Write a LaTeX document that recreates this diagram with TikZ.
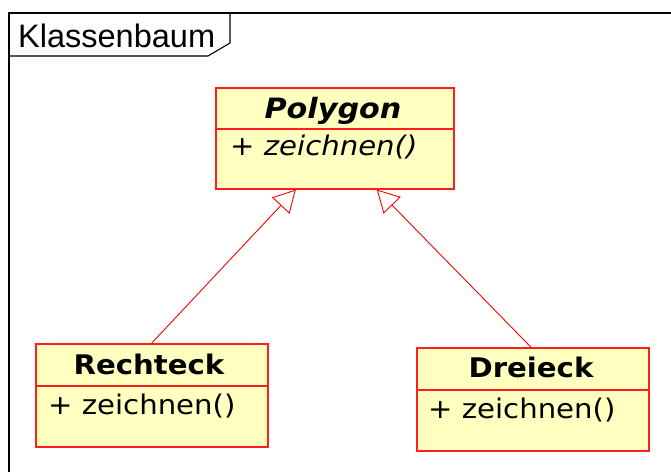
\documentclass[tikz,border=0pt]{standalone}
\usepackage{fontspec}
\setmainfont[FakeStretch=1.08]{DejaVu Sans}
\newfontfamily\labelfont{Liberation Sans}
\usetikzlibrary{arrows.meta,calc}
\definecolor{classfill}{RGB}{255,255,192}
\definecolor{classline}{RGB}{255,30,30}
\begin{document}
\begin{tikzpicture}[x=1pt,y=-1pt,
  classbox/.style={draw=classline, line width=1.6pt, fill=classfill, inner sep=0pt, anchor=north west},
  sepline/.style={draw=classline, line width=1.6pt},
  cname/.style={anchor=base, inner sep=0pt, font=\fontsize{27}{30}\selectfont\bfseries},
  cop/.style={anchor=base west, inner sep=0pt, font=\fontsize{27}{30}\selectfont},
  inherit/.style={draw=red, line width=0.9pt, -{Triangle[open, length=22pt, width=24pt, fill=white]}},
  framepen/.style={draw=black, line width=1.6pt}]
\useasboundingbox (0,0) rectangle (671,471);
% frame
\draw[framepen] (9,475) -- (9,13) -- (675,13);
\draw[draw=black, line width=1.1pt] (9,56) -- (208,56) -- (230,43) -- (230,13);
\node[anchor=base west, inner sep=0pt, font=\labelfont\fontsize{32.5}{34}\selectfont] (framelabel) at (18,47) {Klassenbaum};
% Polygon
\node[classbox, minimum width=238pt, minimum height=101pt] (polygon) at (215,87) {};
\draw[sepline] (215,129) -- (453,129);
\node[cname, font=\fontsize{28}{30}\selectfont\bfseries\itshape] (polygonname) at (333,118) {Polygon};
\node[cop] (polygonop) at (230,155) {+ \textit{zeichnen()}};
% Rechteck
\node[classbox, minimum width=232pt, minimum height=103pt] (rechteck) at (35,343) {};
\draw[sepline] (35,386) -- (267,386);
\node[cname] (rechteckname) at (149,374) {Rechteck};
\node[cop] (rechteckop) at (48,414) {+ zeichnen()};
% Dreieck
\node[classbox, minimum width=232pt, minimum height=103pt] (dreieck) at (416,347) {};
\draw[sepline] (416,390) -- (648,390);
\node[cname] (dreieckname) at (531,377) {Dreieck};
\node[cop] (dreieckop) at (428,418) {+ zeichnen()};
% inheritance
\draw[inherit] (rechteck.north) -- ($(polygon.south)+(-39,0)$);
\draw[inherit] ($(dreieck.north)+(-2,0)$) -- ($(polygon.south)+(42,0)$);
\end{tikzpicture}
\end{document}
